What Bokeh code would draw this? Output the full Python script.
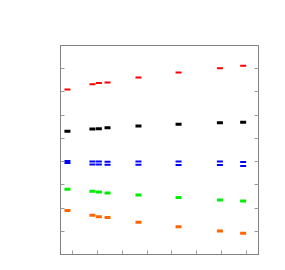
from bokeh.plotting import figure
from bokeh.models import LinearAxis, FixedTicker, Range1d
from bokeh.embed import file_html
from bokeh.resources import INLINE

x = [0.78, 1.79, 2.05, 2.40, 3.65, 5.27, 6.94, 7.88]
red = [7.11, 7.33, 7.38, 7.41, 7.62, 7.84, 8.02, 8.13]
black = [5.31, 5.40, 5.42, 5.46, 5.53, 5.61, 5.67, 5.70]
blue_a = [4.03, 4.00, 4.00, 3.99, 4.00, 4.00, 4.00, 3.98]
blue_b = [3.94, 3.88, 3.88, 3.86, 3.87, 3.85, 3.85, 3.81]
green = [2.81, 2.72, 2.69, 2.65, 2.56, 2.45, 2.35, 2.30]
orange = [1.89, 1.69, 1.63, 1.59, 1.39, 1.19, 1.01, 0.92]
ticks = [1, 2, 3, 4, 5, 6, 7, 8]

p = figure(width=277, height=262, output_backend="svg", toolbar_location=None,
           x_range=Range1d(0.5, 8.5), y_range=Range1d(0, 9),
           x_axis_location=None, y_axis_location=None,
           min_border_left=60, min_border_top=45, min_border_right=19, min_border_bottom=8)
p.grid.visible = False
p.outline_line_color = "#808080"
p.background_fill_color = "white"
p.border_fill_color = "white"

def mk_axis(cls):
    a = cls(ticker=FixedTicker(ticks=ticks))
    a.major_tick_in = 4
    a.major_tick_out = 0
    a.minor_tick_line_color = None
    a.major_label_text_font_size = "1px"
    a.major_label_text_color = None
    a.major_label_standoff = 0
    a.axis_line_color = "#808080"
    a.major_tick_line_color = "#999999"
    return a

p.add_layout(mk_axis(LinearAxis), "left")
p.add_layout(mk_axis(LinearAxis), "right")
p.add_layout(mk_axis(LinearAxis), "below")

def dash(ys, color, w, h):
    p.rect(x=x, y=ys, width=w, height=h, width_units="screen", height_units="screen",
           fill_color=color, line_color=None)

dash(red, "#ff0000", 6, 2)
dash(black, "#000000", 6, 3)
dash(blue_a, "#0000ff", 6, 2)
dash(blue_b, "#0000ff", 6, 2)
dash(green, "#00ee00", 6, 3)
dash(orange, "#ff6600", 6, 3)

open("out.html", "w").write(file_html(p, INLINE))
